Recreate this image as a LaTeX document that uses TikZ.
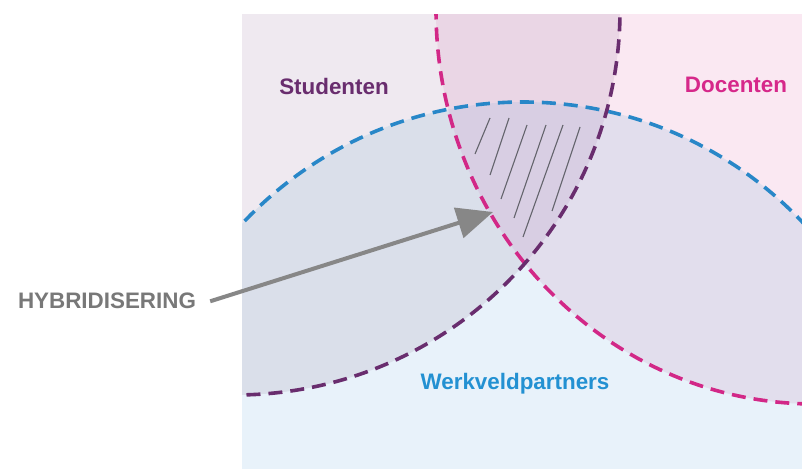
\documentclass[tikz,border=0pt]{standalone}
\usepackage{fontspec}
\setmainfont{Liberation Sans}
\usetikzlibrary{arrows.meta}
\definecolor{cS}{RGB}{239,233,240}
\definecolor{cD}{RGB}{250,232,242}
\definecolor{cW}{RGB}{232,242,250}
\definecolor{cSD}{RGB}{234,214,229}
\definecolor{cSW}{RGB}{218,223,234}
\definecolor{cDW}{RGB}{226,222,237}
\definecolor{cSDW}{RGB}{216,206,227}
\definecolor{lS}{RGB}{105,45,110}
\definecolor{lD}{RGB}{210,40,135}
\definecolor{lW}{RGB}{40,135,200}
\definecolor{tW}{RGB}{35,145,210}
\definecolor{tD}{RGB}{214,40,138}
\definecolor{tH}{RGB}{120,120,120}
\definecolor{arr}{RGB}{135,135,135}
\definecolor{hatch}{RGB}{100,100,108}
\tikzset{
  border/.style={line width=3.6pt, dash pattern=on 14pt off 8pt},
  label/.style={font=\fontsize{22.4}{26}\selectfont\bfseries, anchor=base, inner sep=0pt},
  hatchline/.style={hatch, line width=1.1pt},
  pointer/.style={arr, line width=4pt, -{Triangle[length=36pt,width=31pt]}}
}
\begin{document}
\begin{tikzpicture}[x=1pt,y=-1pt]
\useasboundingbox (0,0) rectangle (802,468);
\fill[white] (0,0) rectangle (802,468);
\begin{scope}
  \clip (242,15) rectangle (802,468);
  \fill[cS] (235,10) circle[radius=385pt];
  \fill[cD] (815,10) ellipse[x radius=379pt, y radius=394pt];
  \begin{scope}
    \clip (235,10) circle[radius=385pt];
    \fill[cSD] (815,10) ellipse[x radius=379pt, y radius=394pt];
  \end{scope}
  \fill[cW] (523,487) circle[radius=385pt];
  \begin{scope}
    \clip (235,10) circle[radius=385pt];
    \fill[cSW] (523,487) circle[radius=385pt];
  \end{scope}
  \begin{scope}
    \clip (815,10) ellipse[x radius=379pt, y radius=394pt];
    \fill[cDW] (523,487) circle[radius=385pt];
  \end{scope}
  \begin{scope}
    \clip (235,10) circle[radius=385pt];
    \clip (815,10) ellipse[x radius=379pt, y radius=394pt];
    \fill[cSDW] (523,487) circle[radius=385pt];
  \end{scope}
  % hatching
  \draw[hatchline] (490,118) -- (475,154);
  \draw[hatchline] (509,118) -- (490,175);
  \draw[hatchline] (527,125) -- (501,199);
  \draw[hatchline] (546,125) -- (514,218);
  \draw[hatchline] (563,125) -- (523,237);
  \draw[hatchline] (580,127) -- (552,211);
  % borders
  \draw[border, lW] (523,487) circle[radius=385pt];
  \draw[border, lD] (815,10) ellipse[x radius=379pt, y radius=394pt];
  \draw[border, lS] (235,10) circle[radius=385pt];
\end{scope}
\node[label, lS] (stud) at (334,95) {Studenten};
\node[label, tD] (doc) at (736,93) {Docenten};
\node[label, tW] (werk) at (515,389) {Werkveldpartners};
\node[label, tH] (hyb) at (107,308) {HYBRIDISERING};
\coordinate (tip) at (493,212);
\draw[pointer] ([xshift=14pt,yshift=-1pt]hyb.east) -- (tip);
\end{tikzpicture}
\end{document}
